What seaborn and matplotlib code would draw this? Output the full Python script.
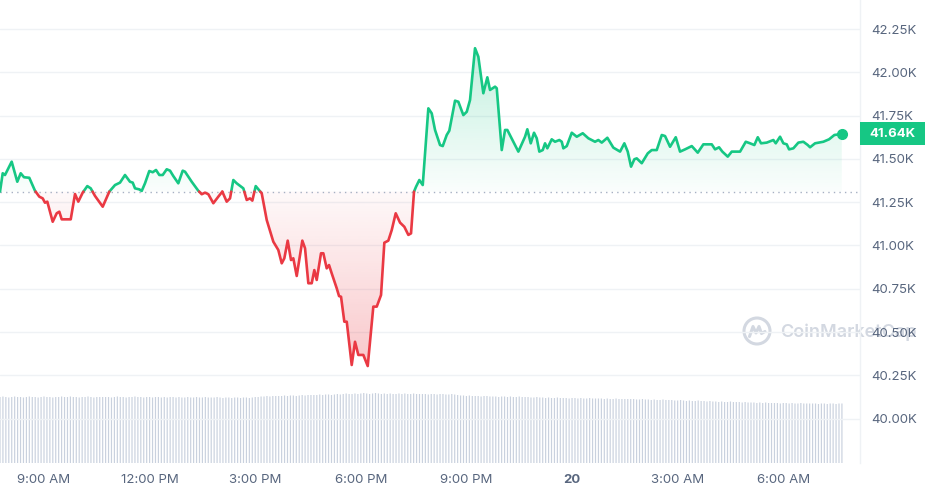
import matplotlib
matplotlib.use('Agg')
import matplotlib.pyplot as plt
import matplotlib.dates as mdates
import matplotlib.colors as mcolors
import matplotlib.transforms as mtransforms
import numpy as np
import pandas as pd
import seaborn as sns
from matplotlib.path import Path
from matplotlib.patches import Circle, Rectangle
from matplotlib.lines import Line2D

# hours after midnight of Jan 19 (values above 24 fall on Jan 20)
hours = [
    7.75, 7.827, 7.892, 8.082, 8.241, 8.338, 8.432, 8.582, 8.744, 8.866,
    8.963, 9.028, 9.094, 9.247, 9.361, 9.435, 9.503, 9.759, 9.881, 9.974,
    10.099, 10.23, 10.327, 10.449, 10.668, 10.855, 11.017, 11.159, 11.301, 11.443,
    11.52, 11.585, 11.707, 11.776, 11.869, 11.991, 12.088, 12.182, 12.276, 12.372,
    12.486, 12.58, 12.673, 12.815, 12.94, 13.006, 13.196, 13.383, 13.48, 13.574,
    13.668, 13.81, 13.952,
    14.065, 14.19, 14.284, 14.378, 14.474, 14.662, 14.759, 14.852, 14.918, 15.014,
    15.185, 15.327, 15.514, 15.656, 15.753, 15.827, 15.923, 16.017, 16.082, 16.179,
    16.338, 16.415, 16.509, 16.605, 16.679, 16.747, 16.869, 16.935, 17.031, 17.097,
    17.173, 17.315, 17.381, 17.438, 17.531, 17.6, 17.741, 17.835, 17.929, 18.071,
    18.196, 18.355, 18.452, 18.574, 18.668, 18.781, 18.878, 18.991, 19.114, 19.236,
    19.35, 19.426,
    19.511, 19.568, 19.662, 19.759, 19.918, 20.014, 20.108, 20.25, 20.327, 20.44,
    20.514, 20.676, 20.77, 20.912, 21.009, 21.102, 21.244, 21.338, 21.48, 21.594,
    21.67, 21.813, 21.861, 22.003, 22.097, 22.162, 22.475, 22.665, 22.73, 22.827,
    22.92, 22.997, 23.071, 23.168, 23.233, 23.298, 23.423, 23.517, 23.639, 23.708,
    23.753, 23.85, 23.992, 24.134, 24.304, 24.463, 24.653, 24.747, 24.844, 25.003,
    25.173,
    25.364, 25.486, 25.582, 25.676, 25.77, 25.838, 25.98, 26.151, 26.264, 26.406,
    26.549, 26.642, 26.784, 26.946, 27.068, 27.21, 27.401, 27.571, 27.73, 27.969,
    28.063, 28.176, 28.27, 28.423, 28.537, 28.773, 28.935, 29.057, 29.179, 29.276,
    29.369, 29.531, 29.719, 29.787, 29.909, 30.003, 30.099, 30.165, 30.287, 30.429,
    30.571, 30.696, 30.761, 30.903, 31.139, 31.301, 31.452, 31.662,
]

prices = [
    41311, 41417, 41407, 41484, 41368, 41417, 41394, 41391, 41316, 41282,
    41272, 41247, 41253, 41137, 41186, 41195, 41151, 41151, 41297, 41253,
    41305, 41343, 41330, 41286, 41224, 41311, 41349, 41363, 41407, 41368,
    41363, 41330, 41324, 41315, 41359, 41430, 41423, 41436, 41407, 41407,
    41440, 41432, 41401, 41359, 41432, 41426, 41368, 41316, 41296, 41305,
    41296, 41244, 41282,
    41311, 41253, 41272, 41378, 41359, 41330, 41263, 41272, 41259, 41343,
    41301, 41147, 41022, 40974, 40897, 40926, 41028, 40916, 40926, 40824,
    41028, 40984, 40782, 40782, 40858, 40801, 40955, 40955, 40868, 40887,
    40839, 40753, 40708, 40704, 40560, 40560, 40310, 40444, 40368, 40368,
    40304, 40647, 40647, 40714, 41016, 41028, 41089, 41186, 41132, 41108,
    41061, 41070,
    41311, 41339, 41378, 41349, 41792, 41763, 41667, 41580, 41574, 41638,
    41663, 41836, 41830, 41753, 41772, 41840, 42139, 42090, 41879, 41971,
    41898, 41917, 41908, 41551, 41667, 41667, 41542, 41628, 41671, 41590,
    41651, 41619, 41542, 41551, 41590, 41561, 41613, 41599, 41609, 41599,
    41561, 41574, 41651, 41628, 41648, 41619, 41599, 41609, 41594, 41622,
    41565,
    41542, 41590, 41542, 41455, 41498, 41503, 41475, 41532, 41551, 41551,
    41638, 41632, 41570, 41625, 41542, 41555, 41574, 41536, 41584, 41584,
    41555, 41567, 41542, 41513, 41542, 41542, 41599, 41590, 41580, 41625,
    41590, 41594, 41609, 41590, 41628, 41590, 41584, 41555, 41561, 41594,
    41599, 41580, 41567, 41590, 41599, 41613, 41638, 41644,
]

# 5-minute volume bars from 7:45 AM (relative heights, one row per hour)
volume = [
    66, 66.5, 66, 65.5, 66, 66.5, 66, 66, 65.5, 66, 66.5, 66,
    66, 65.5, 66, 66.5, 66, 66, 65.5, 66, 66, 66.5, 66, 66,
    66.5, 66, 66, 65.5, 66, 66, 66.5, 66, 65.5, 66, 66, 66,
    66, 66, 65.5, 66, 66.5, 66, 66, 65.5, 66, 66, 66.5, 66,
    66, 65.5, 66, 66, 65.5, 66, 66, 65.5, 66, 65.5, 66, 66,
    65.5, 66, 65.5, 65.5, 66, 65.5, 65.5, 66, 65.5, 65.5, 66, 65.5,
    65.5, 65.5, 66, 65.5, 65, 65.5, 65.5, 65, 65.5, 65.5, 65, 65.5,
    65.5, 65, 65.5, 66, 66, 66.5, 66.5, 67, 66.5, 67, 67, 67,
    67, 67.5, 67, 67.5, 67.5, 67, 67.5, 68, 67.5, 68, 68, 68,
    68, 68.5, 68, 68.5, 68.5, 68, 68.5, 69, 68.5, 69, 69.5, 69,
    69, 69.5, 69, 69.5, 70, 69.5, 69, 69.5, 70, 69.5, 69, 69.5,
    69, 69.5, 69, 69, 69.5, 69, 69.5, 69, 69, 69.5, 69, 69,
    69, 69, 68.5, 69, 69, 68.5, 69, 69, 68.5, 68.5, 69, 68.5,
    68, 67.5, 67.5, 67, 67.5, 67, 67, 67, 66.5, 67, 67, 66.5,
    66.5, 66.5, 66, 66.5, 66.5, 66, 66.5, 66, 66, 66.5, 66, 66,
    66, 65.5, 65.5, 66, 65.5, 65.5, 65, 65.5, 65, 65, 65.5, 65,
    65, 65, 64.5, 65, 65, 64.5, 65, 64.5, 64.5, 65, 64.5, 64.5,
    64.5, 64.5, 64, 64.5, 64, 64, 64.5, 64, 64, 64, 64, 64,
    64, 63.5, 63.5, 64, 63.5, 63.5, 63, 63.5, 63, 63, 63.5, 63,
    63, 63, 62.5, 62.5, 63, 62.5, 62, 62.5, 62, 62, 62.5, 62,
    62, 61.5, 62, 61.5, 61.5, 61, 61.5, 61, 61, 61.5, 61, 61,
    61, 60.5, 61, 60.5, 60.5, 60.5, 60, 60.5, 60, 60.5, 60, 60,
    60, 60, 59.5, 60, 60, 59.5, 60, 59.5, 59.5, 60, 59.5, 59.5,
    59.5, 59.5, 59.5, 59, 59.5, 59.5, 59, 59.5, 59.5, 59, 59.5, 59.5,
]

x_ticks = ['2024-01-19 09:00', '2024-01-19 12:00', '2024-01-19 15:00',
           '2024-01-19 18:00', '2024-01-19 21:00', '2024-01-20 00:00',
           '2024-01-20 03:00', '2024-01-20 06:00']
x_labels = ['9:00 AM', '12:00 PM', '3:00 PM', '6:00 PM', '9:00 PM',
            '20', '3:00 AM', '6:00 AM']
y_ticks = [40000, 40250, 40500, 40750, 41000, 41250, 41500, 41750, 42000, 42250]
last_label = '41.64K'

assert len(hours) == len(prices)

up_color = '#16c784'
down_color = '#ea3943'
text_color = '#58667e'
grid_color = '#eff2f5'

sns.set_theme(style='white')
plt.rcParams['font.family'] = ['Inter', 'DejaVu Sans']

day0 = pd.Timestamp('2024-01-19')
t = mdates.date2num(day0 + pd.to_timedelta(hours, unit='h'))
p = np.array(prices, dtype=float)
base = p[0]

# split the line where it crosses the opening price
rows = []
seg = 0
side = 'up'
rows.append((t[0], p[0], side, seg))
for i in range(1, len(p)):
    s = 'up' if p[i] >= base else 'down'
    if s != side:
        frac = (base - p[i - 1]) / (p[i] - p[i - 1])
        tc = t[i - 1] + frac * (t[i] - t[i - 1])
        rows.append((tc, base, side, seg))
        seg += 1
        side = s
        rows.append((tc, base, side, seg))
    rows.append((t[i], p[i], side, seg))
line_df = pd.DataFrame(rows, columns=['t', 'price', 'side', 'seg'])

vol_t = mdates.date2num(pd.date_range('2024-01-19 07:45', periods=len(volume), freq='5min'))

W, H = 928, 495
fig = plt.figure(figsize=(W / 100, H / 100), dpi=100)
fig.patch.set_facecolor('white')
pos = [0, 1 - 463 / H, 860 / W, 463 / H]

x_lo = mdates.date2num(day0 + pd.Timedelta(hours=7.75))
x_hi = mdates.date2num(day0 + pd.Timedelta(hours=32.18))

# volume panel
vax = fig.add_axes(pos, zorder=0)
vax.bar(vol_t, volume, width=0.4 / 288, color='#c9d1de', linewidth=0,
        align='center', snap=False)
vax.set_xlim(x_lo, x_hi)
vax.set_ylim(0, 463)
vax.axis('off')

# watermark
wm = '#d3d8e1'
fig.text(780 / W, 1 - 332 / H, 'CoinMarketCap', fontsize=13, color=wm,
         fontweight='semibold', ha='left', va='center', zorder=0.5)
cx, cy = 7.57, (H - 331) / 100
fig.add_artist(Circle((cx, cy), 0.13, transform=fig.dpi_scale_trans,
                      fill=False, ec=wm, lw=2.2, zorder=0.5))
wave_x = [-0.075, -0.04, -0.01, 0.02, 0.045, 0.08]
wave_y = [-0.055, 0.045, -0.02, 0.045, -0.025, -0.005]
fig.add_artist(Line2D([cx + v for v in wave_x], [cy + v for v in wave_y],
                      transform=fig.dpi_scale_trans, color=wm, lw=2.2, zorder=0.5))

# price panel
ax = fig.add_axes(pos, zorder=1)
ax.patch.set_alpha(0)


def gradient_fill(ax, tt, pp, base, above, color, a_edge, a_base):
    mask = pp >= base if above else pp <= base
    coll = ax.fill_between(tt, pp, base, where=mask, interpolate=True,
                           facecolor='none', edgecolor='none')
    clip = Path.make_compound_path(*coll.get_paths())
    lo, hi = (base, pp.max()) if above else (pp.min(), base)
    n = 256
    img = np.zeros((n, 1, 4))
    img[..., :3] = mcolors.to_rgb(color)
    ramp = np.linspace(0, 1, n)
    if not above:
        ramp = ramp[::-1]
    img[:, 0, 3] = a_base + (a_edge - a_base) * ramp
    im = ax.imshow(img, extent=[tt[0], tt[-1], lo, hi], origin='lower',
                   aspect='auto', zorder=1, interpolation='bilinear')
    im.set_clip_path(clip, transform=ax.transData)


gradient_fill(ax, t, p, base, True, up_color, 0.26, 0.02)
gradient_fill(ax, t, p, base, False, down_color, 0.28, 0.03)

ax.axhline(base, color='#a6b0c3', lw=1, ls=(0, (1, 3)), zorder=1.5)

sns.lineplot(data=line_df, x='t', y='price', hue='side', units='seg',
             estimator=None, sort=False, palette={'up': up_color, 'down': down_color},
             linewidth=1.9, legend=False, ax=ax, zorder=3)
ax.plot(t[-1], p[-1], 'o', color=up_color, markersize=7, zorder=4)

ax.set_xlim(x_lo, x_hi)
ax.set_ylim(42250 - 434 * 5.774, 42250 + 29 * 5.774)

ax.set_yticks(y_ticks)
ax.set_yticklabels([f'{v / 1000:.2f}K' for v in y_ticks])
ax.yaxis.tick_right()
ax.set_xticks(mdates.date2num(pd.to_datetime(x_ticks)))
ax.set_xticklabels(x_labels)
ax.tick_params(axis='both', length=0, labelsize=9.5, labelcolor=text_color)
ax.tick_params(axis='y', pad=8)
ax.tick_params(axis='x', pad=8)
ax.xaxis.get_ticklabels()[5].set_fontweight('bold')
ax.set_xlabel('')
ax.set_ylabel('')
ax.grid(axis='y', color=grid_color, lw=1, zorder=0)
ax.grid(axis='x', visible=False)
for name in ['top', 'left', 'bottom']:
    ax.spines[name].set_visible(False)
ax.spines['right'].set_color(grid_color)
ax.spines['right'].set_linewidth(1)

# last price badge
blend = mtransforms.blended_transform_factory(ax.transAxes, ax.transData)
bw = 65 / 860
bh = 23 * 5.774
ax.add_patch(Rectangle((1.0, p[-1] - bh / 2), bw, bh, transform=blend,
                       facecolor=up_color, edgecolor='none', clip_on=False, zorder=5))
ax.text(1.0 + bw / 2, p[-1], last_label, transform=blend, ha='center',
        va='center', color='white', fontsize=9.5, fontweight='bold', zorder=6)

fig.savefig('out.png', dpi=100, facecolor='white')
